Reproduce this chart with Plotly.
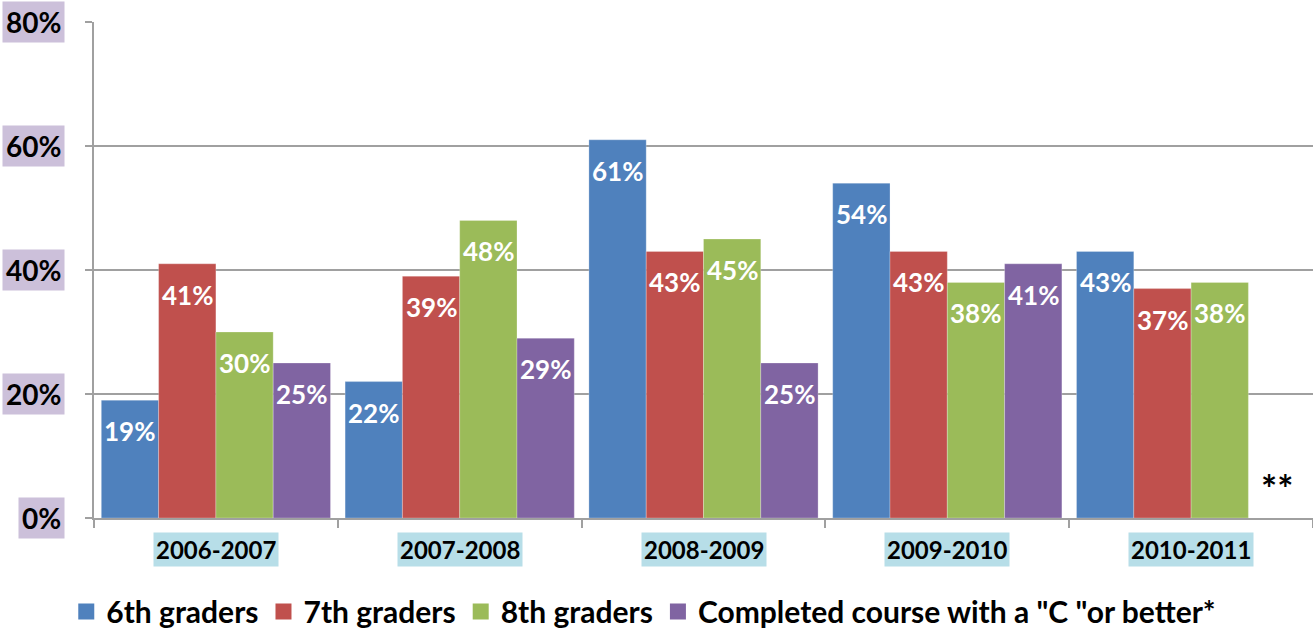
import plotly.graph_objects as go

categories = ["2006-2007", "2007-2008", "2008-2009", "2009-2010", "2010-2011"]
series_names = ["6th graders", "7th graders", "8th graders", 'Completed course with a "C "or better*']
sixth = [19, 22, 61, 54, 43]
seventh = [41, 39, 43, 43, 37]
eighth = [30, 48, 45, 38, 38]
completed = [25, 29, 25, 41, None]
missing_mark = "**"
y_ticks = [0, 20, 40, 60, 80]

colors = ["#4F81BD", "#C0504D", "#9BBB59", "#8064A2"]
all_series = [sixth, seventh, eighth, completed]
FONT = "Lato"
BARGAP = 0.06

fig = go.Figure()
for name, vals, col in zip(series_names, all_series, colors):
    fig.add_trace(go.Bar(
        x=categories, y=vals, name=name, showlegend=False,
        marker=dict(color=col, line=dict(color="rgba(255,255,255,0.5)", width=0.5)),
    ))
# legend entries with larger square swatches
for name, col in zip(series_names, colors):
    fig.add_trace(go.Scatter(
        x=[None], y=[None], mode="markers", name="<b>%s</b>" % name,
        marker=dict(symbol="square", size=16, color=col),
    ))

annotations = []
nser = len(all_series)
bw = (1 - BARGAP) / nser
for j, vals in enumerate(all_series):
    off = (j - (nser - 1) / 2) * bw
    for i, v in enumerate(vals):
        if v is None:
            annotations.append(dict(x=i + off, y=0, xref="x", yref="y", text="<b>%s</b>" % missing_mark,
                                    showarrow=False, yshift=30, font=dict(family=FONT, size=38, color="black")))
            continue
        annotations.append(dict(x=i + off, y=v, xref="x", yref="y", text="<b>%d%%</b>" % v,
                                showarrow=False, yshift=-31,
                                font=dict(family=FONT, size=26, color="white")))

for t in y_ticks:
    annotations.append(dict(x=0, y=t, xref="paper", yref="y", xanchor="right", text="<b>%d%%</b>" % t,
                            showarrow=False, xshift=-29, bgcolor="#CCC0DA", borderpad=3,
                            font=dict(family=FONT, size=28, color="black")))

for i, c in enumerate(categories):
    annotations.append(dict(x=i, y=0, xref="x", yref="paper", yanchor="top", text="<b>%s</b>" % c,
                            showarrow=False, yshift=-14, bgcolor="#B7DEE8", borderpad=2,
                            font=dict(family=FONT, size=24, color="black")))

fig.update_layout(
    width=1313, height=631,
    margin=dict(l=94, r=0, t=22, b=113, autoexpand=False),
    plot_bgcolor="white", paper_bgcolor="white",
    barmode="group", bargap=BARGAP, bargroupgap=0,
    showlegend=True,
    legend=dict(orientation="h", x=0.451, xanchor="center", y=-0.136, yanchor="top",
                font=dict(family=FONT, size=30, color="black"), itemsizing="trace",
                tracegroupgap=0),
    annotations=annotations,
)
fig.update_xaxes(showticklabels=False, showline=True, linecolor="#A0A0A0", linewidth=2,
                 ticks="outside", tickson="boundaries", ticklen=8, tickcolor="#A0A0A0", tickwidth=2,
                 showgrid=False)
fig.update_yaxes(range=[0, 80], tickvals=y_ticks, showticklabels=False, showline=True,
                 linecolor="#A0A0A0", linewidth=2, ticks="outside", ticklen=7, tickcolor="#A0A0A0",
                 tickwidth=2, showgrid=True, gridcolor="#A0A0A0", gridwidth=2, zeroline=False)

fig.write_html("out.html", config={"displayModeBar": False},
               post_script="document.body.style.margin='0';document.body.style.overflow='hidden';")
